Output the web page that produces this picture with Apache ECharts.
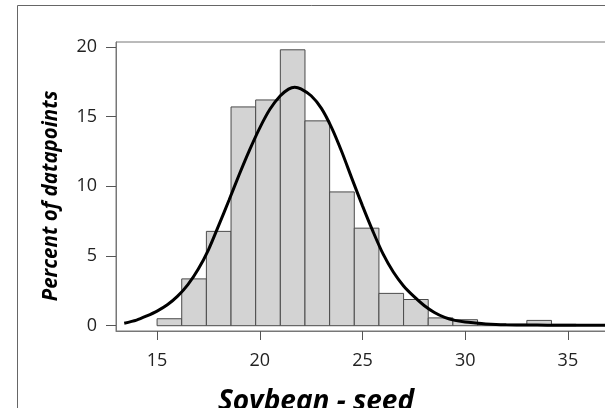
<!DOCTYPE html>
<html><head><meta charset="utf-8">
<script src="https://cdn.jsdelivr.net/npm/echarts@6/dist/echarts.min.js"></script>
<style>html,body{margin:0;padding:0;background:#fff}#c{width:605px;height:408px}</style>
</head><body><div id="c"></div>
<script>
// Histogram bins (x range) and percent of datapoints
const binStart = [15.0,16.2,17.4,18.6,19.8,21.0,22.2,23.4,24.6,25.8,27.0,28.2,29.4,30.6,31.8,33.0,34.2];
const binEnd   = [16.2,17.4,18.6,19.8,21.0,22.2,23.4,24.6,25.8,27.0,28.2,29.4,30.6,31.8,33.0,34.2,35.4];
const percent  = [0.5,3.36,6.77,15.7,16.2,19.8,14.7,9.6,7.0,2.32,1.88,0.56,0.43,0.1,0.1,0.38,0.1];
// Fitted density curve
const curveX = [13.4,14.0,14.5,15.0,15.5,16.0,16.5,17.0,17.5,18.0,18.5,19.0,19.5,20.0,20.5,21.0,21.4,21.7,22.0,22.5,23.0,23.5,24.0,24.5,25.0,25.5,26.0,26.5,27.0,27.5,28.0,28.5,29.0,29.5,30.0,30.5,31.0,31.5,32.0,33.0,34.0,35.0,36.0,37.0];
const curveY = [0.18,0.4,0.7,1.05,1.5,2.12,2.95,4.05,5.45,7.2,9.0,10.85,12.6,14.2,15.55,16.5,16.98,17.12,17.0,16.5,15.6,14.2,12.45,10.5,8.6,6.8,5.15,3.85,2.85,2.1,1.45,0.95,0.6,0.38,0.26,0.19,0.13,0.09,0.07,0.05,0.04,0.04,0.04,0.04];
const xTicks = [15,20,25,30,35];
const yTicks = [0,5,10,15,20];
const xTitle = 'Soybean - seed';
const yTitle = 'Percent of datapoints';

const bars = binStart.map((s,i)=>[s, binEnd[i], percent[i]]);
const curve = curveX.map((x,i)=>[x, curveY[i]]);

const chart = echarts.init(document.getElementById('c'), null, {renderer:'canvas'});
const font = 'Open Sans';
chart.setOption({
  animation:false,
  backgroundColor:'#fff',
  graphic:[
    {type:'rect', shape:{x:17.5,y:5.5,width:700,height:500}, style:{fill:'none', stroke:'#666', lineWidth:1}, silent:true, z:-1},
    {type:'text', x:316, y:402, style:{text:xTitle, font:'italic bold 28px "Open Sans"', fill:'#000', textAlign:'center', textVerticalAlign:'middle'}, silent:true},
    {type:'text', x:51.5, y:196, rotation:Math.PI/2, style:{text:yTitle, font:'italic bold 20.5px "Open Sans"', fill:'#000', textAlign:'center', textVerticalAlign:'middle'}, silent:true}
  ],
  grid:{left:116, top:42, width:493, height:289, containLabel:false, outerBoundsMode:'none', show:true, borderColor:'#777', borderWidth:1, backgroundColor:'transparent'},
  xAxis:{
    type:'value', min:13, max:37,
    axisLine:{show:true, onZero:false, lineStyle:{color:'#777', width:1}},
    axisTick:{show:true, length:9, customValues:xTicks, lineStyle:{color:'#555'}},
    axisLabel:{show:true, customValues:xTicks, fontFamily:font, fontSize:18, color:'#222', margin:21},
    splitLine:{show:false}
  },
  yAxis:{
    type:'value', min:-0.38, max:20.36,
    axisLine:{show:true, onZero:false, lineStyle:{color:'#777', width:1}},
    axisTick:{show:true, length:10, customValues:yTicks, lineStyle:{color:'#555'}},
    axisLabel:{show:true, customValues:yTicks, fontFamily:font, fontSize:18, color:'#222', margin:19},
    splitLine:{show:false}
  },
  series:[
    {type:'custom', data:bars, encode:{x:[0,1], y:2}, z:2,
     renderItem:function(params, api){
       const p0 = api.coord([api.value(0), api.value(2)]);
       const p1 = api.coord([api.value(1), 0]);
       return {type:'rect', shape:{x:p0[0], y:p0[1], width:p1[0]-p0[0], height:p1[1]-p0[1]},
               style:{fill:'#d3d3d3', stroke:'#4a4a4a', lineWidth:1}};
     }},
    {type:'line', data:curve, smooth:0.3, showSymbol:false, z:3,
     lineStyle:{color:'#000', width:3}}
  ]
});
</script></body></html>
